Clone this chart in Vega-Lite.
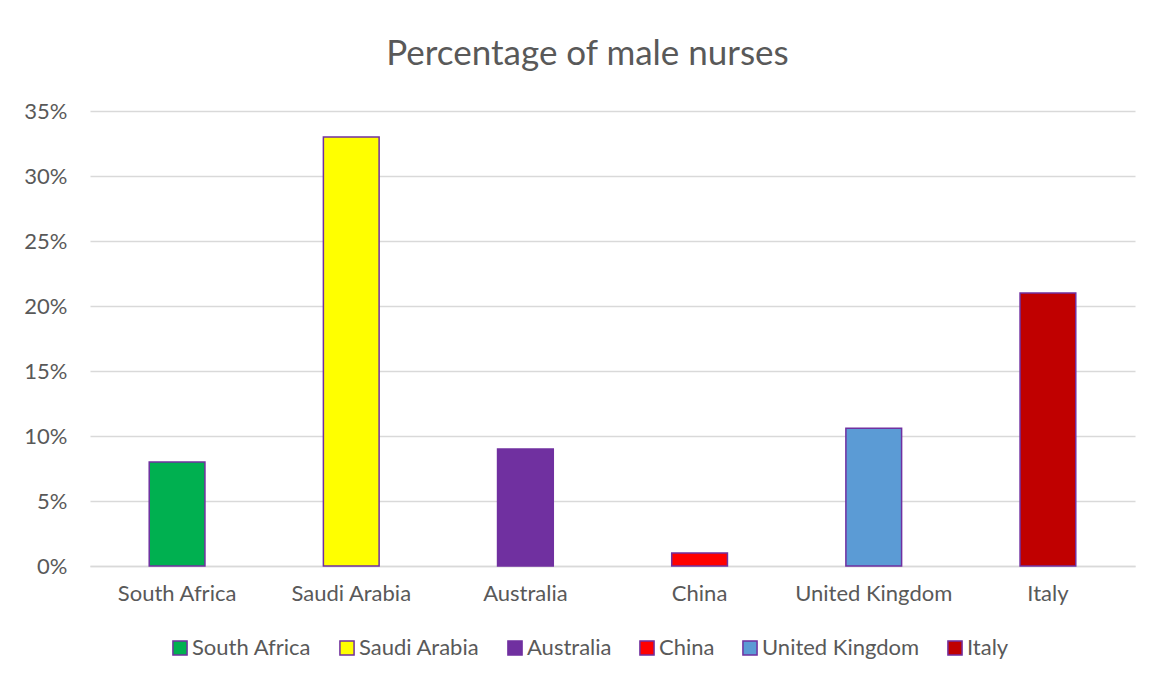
{
  "$schema": "https://vega.github.io/schema/vega-lite/v6.json",
  "width": 1045,
  "height": 455,
  "autosize": {"type": "none"},
  "padding": {"left": 90, "top": 111, "right": 21, "bottom": 113},
  "background": "white",
  "title": {
    "text": "Percentage of male nurses",
    "font": "Lato",
    "fontSize": 35,
    "fontWeight": "normal",
    "color": "#595959",
    "anchor": "middle",
    "dx": -25,
    "offset": 28
  },
  "data": {
    "values": [
      {"country": "South Africa", "pct": 0.08},
      {"country": "Saudi Arabia", "pct": 0.33},
      {"country": "Australia", "pct": 0.09},
      {"country": "China", "pct": 0.01},
      {"country": "United Kingdom", "pct": 0.106},
      {"country": "Italy", "pct": 0.21}
    ]
  },
  "mark": {"type": "bar", "stroke": "#7030A0", "strokeWidth": 1.5},
  "encoding": {
    "x": {
      "field": "country",
      "type": "nominal",
      "sort": null,
      "scale": {"paddingInner": 0.68, "paddingOuter": 0.34},
      "axis": {
        "title": null,
        "labelAngle": 0,
        "labelFont": "Lato",
        "labelFontSize": 22,
        "labelColor": "#595959",
        "labelPadding": 17,
        "ticks": false,
        "domain": true,
        "domainColor": "#D9D9D9",
        "domainWidth": 1.5
      }
    },
    "y": {
      "field": "pct",
      "type": "quantitative",
      "scale": {"domain": [0, 0.35]},
      "axis": {
        "title": null,
        "values": [0, 0.05, 0.1, 0.15, 0.2, 0.25, 0.3, 0.35],
        "format": ".0%",
        "labelFont": "Lato",
        "labelFontSize": 22,
        "labelColor": "#595959",
        "labelPadding": 23,
        "ticks": false,
        "domain": false,
        "grid": true,
        "gridColor": "#D9D9D9",
        "gridWidth": 1.5
      }
    },
    "color": {
      "field": "country",
      "type": "nominal",
      "scale": {
        "domain": ["South Africa", "Saudi Arabia", "Australia", "China", "United Kingdom", "Italy"],
        "range": ["#00B050", "#FFFF00", "#7030A0", "#FF0000", "#5B9BD5", "#C00000"]
      },
      "legend": {
        "title": null,
        "orient": "none",
        "legendX": 79,
        "legendY": 526,
        "direction": "horizontal",
        "symbolType": "square",
        "symbolSize": 200,
        "symbolStrokeColor": "#7030A0",
        "symbolStrokeWidth": 1.5,
        "symbolOpacity": 1,
        "labelFont": "Lato",
        "labelFontSize": 22,
        "labelColor": "#595959",
        "labelOffset": 1,
        "columnPadding": 24,
        "symbolOffset": 0
      }
    }
  },
  "config": {
    "view": {"stroke": null}
  }
}
